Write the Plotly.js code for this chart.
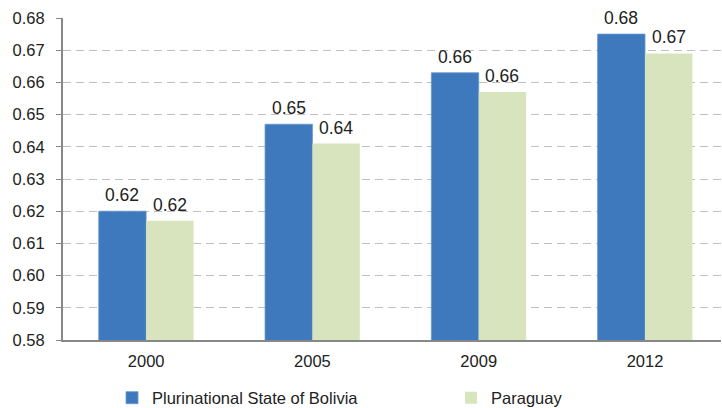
<!DOCTYPE html>
<html>
<head>
<meta charset="utf-8">
<script src="https://cdn.plot.ly/plotly-3.0.1.min.js"></script>
<style>html,body{margin:0;padding:0;background:#fff;}#chart{width:722px;height:408px;}</style>
</head>
<body>
<div id="chart"></div>
<script>
const years = ["2000", "2005", "2009", "2012"];
const bolivia = [0.620, 0.647, 0.663, 0.675];
const paraguay = [0.617, 0.641, 0.657, 0.669];
const yTicks = [0.58, 0.59, 0.60, 0.61, 0.62, 0.63, 0.64, 0.65, 0.66, 0.67, 0.68];

const FONT = "Liberation Sans, Arial, sans-serif";
const labelFont = {family: FONT, size: 17.5, color: "#222222"};
const traces = [
  {type: "bar", name: "Plurinational State of Bolivia", x: years, y: bolivia,
   marker: {color: "#3f79bd", line: {color: "#6a98cc", width: 0.8}}, legend: "legend"},
  {type: "bar", name: "Paraguay", x: years, y: paraguay,
   marker: {color: "#d7e4bd", line: {width: 0}}, legend: "legend2"}
];
const barHalf = 23.7;
const annotations = [];
for (let i = 0; i < years.length; i++) {
  annotations.push({xref: "x", yref: "y", x: i, y: bolivia[i], text: bolivia[i].toFixed(2),
    showarrow: false, xshift: -barHalf, yshift: 4, yanchor: "bottom", xanchor: "center", font: labelFont});
  annotations.push({xref: "x", yref: "y", x: i, y: paraguay[i], text: paraguay[i].toFixed(2),
    showarrow: false, xshift: barHalf, yshift: 4, yanchor: "bottom", xanchor: "center", font: labelFont});
}
const legendCommon = {orientation: "h", xanchor: "left", y: -0.18, yanchor: "middle",
  font: {size: 16.5, family: FONT, color: "#222"}, itemwidth: 30, bgcolor: "rgba(0,0,0,0)"};
const layout = {
  width: 722, height: 408,
  margin: {l: 63, r: 1, t: 18, b: 68, pad: 0, autoexpand: false},
  paper_bgcolor: "#fff", plot_bgcolor: "#fff",
  font: {family: FONT, size: 16.5, color: "#222"},
  barmode: "group", bargap: 0.43, bargroupgap: 0,
  showlegend: true,
  legend: Object.assign({}, legendCommon, {x: 0.0745}),
  legend2: Object.assign({}, legendCommon, {x: 0.5897}),
  annotations: annotations,
  xaxis: {type: "category", range: [-0.5, 3.457], showgrid: false, showline: true,
          linecolor: "#888", linewidth: 2, ticks: "", tickfont: {size: 16.5},
          ticklabelstandoff: 5},
  yaxis: {range: [0.58, 0.68], tickvals: yTicks, ticktext: yTicks.map(v => v.toFixed(2)),
          showgrid: true, gridcolor: "#c0c0c0", griddash: "8px,5px", gridwidth: 1,
          showline: true, linecolor: "#888", linewidth: 2, ticks: "outside", ticklen: 5,
          tickcolor: "#888", zeroline: false, tickfont: {size: 16.5}, ticklabelstandoff: 8}
};
Plotly.newPlot("chart", traces, layout, {displayModeBar: false, staticPlot: true});
</script>
</body>
</html>
